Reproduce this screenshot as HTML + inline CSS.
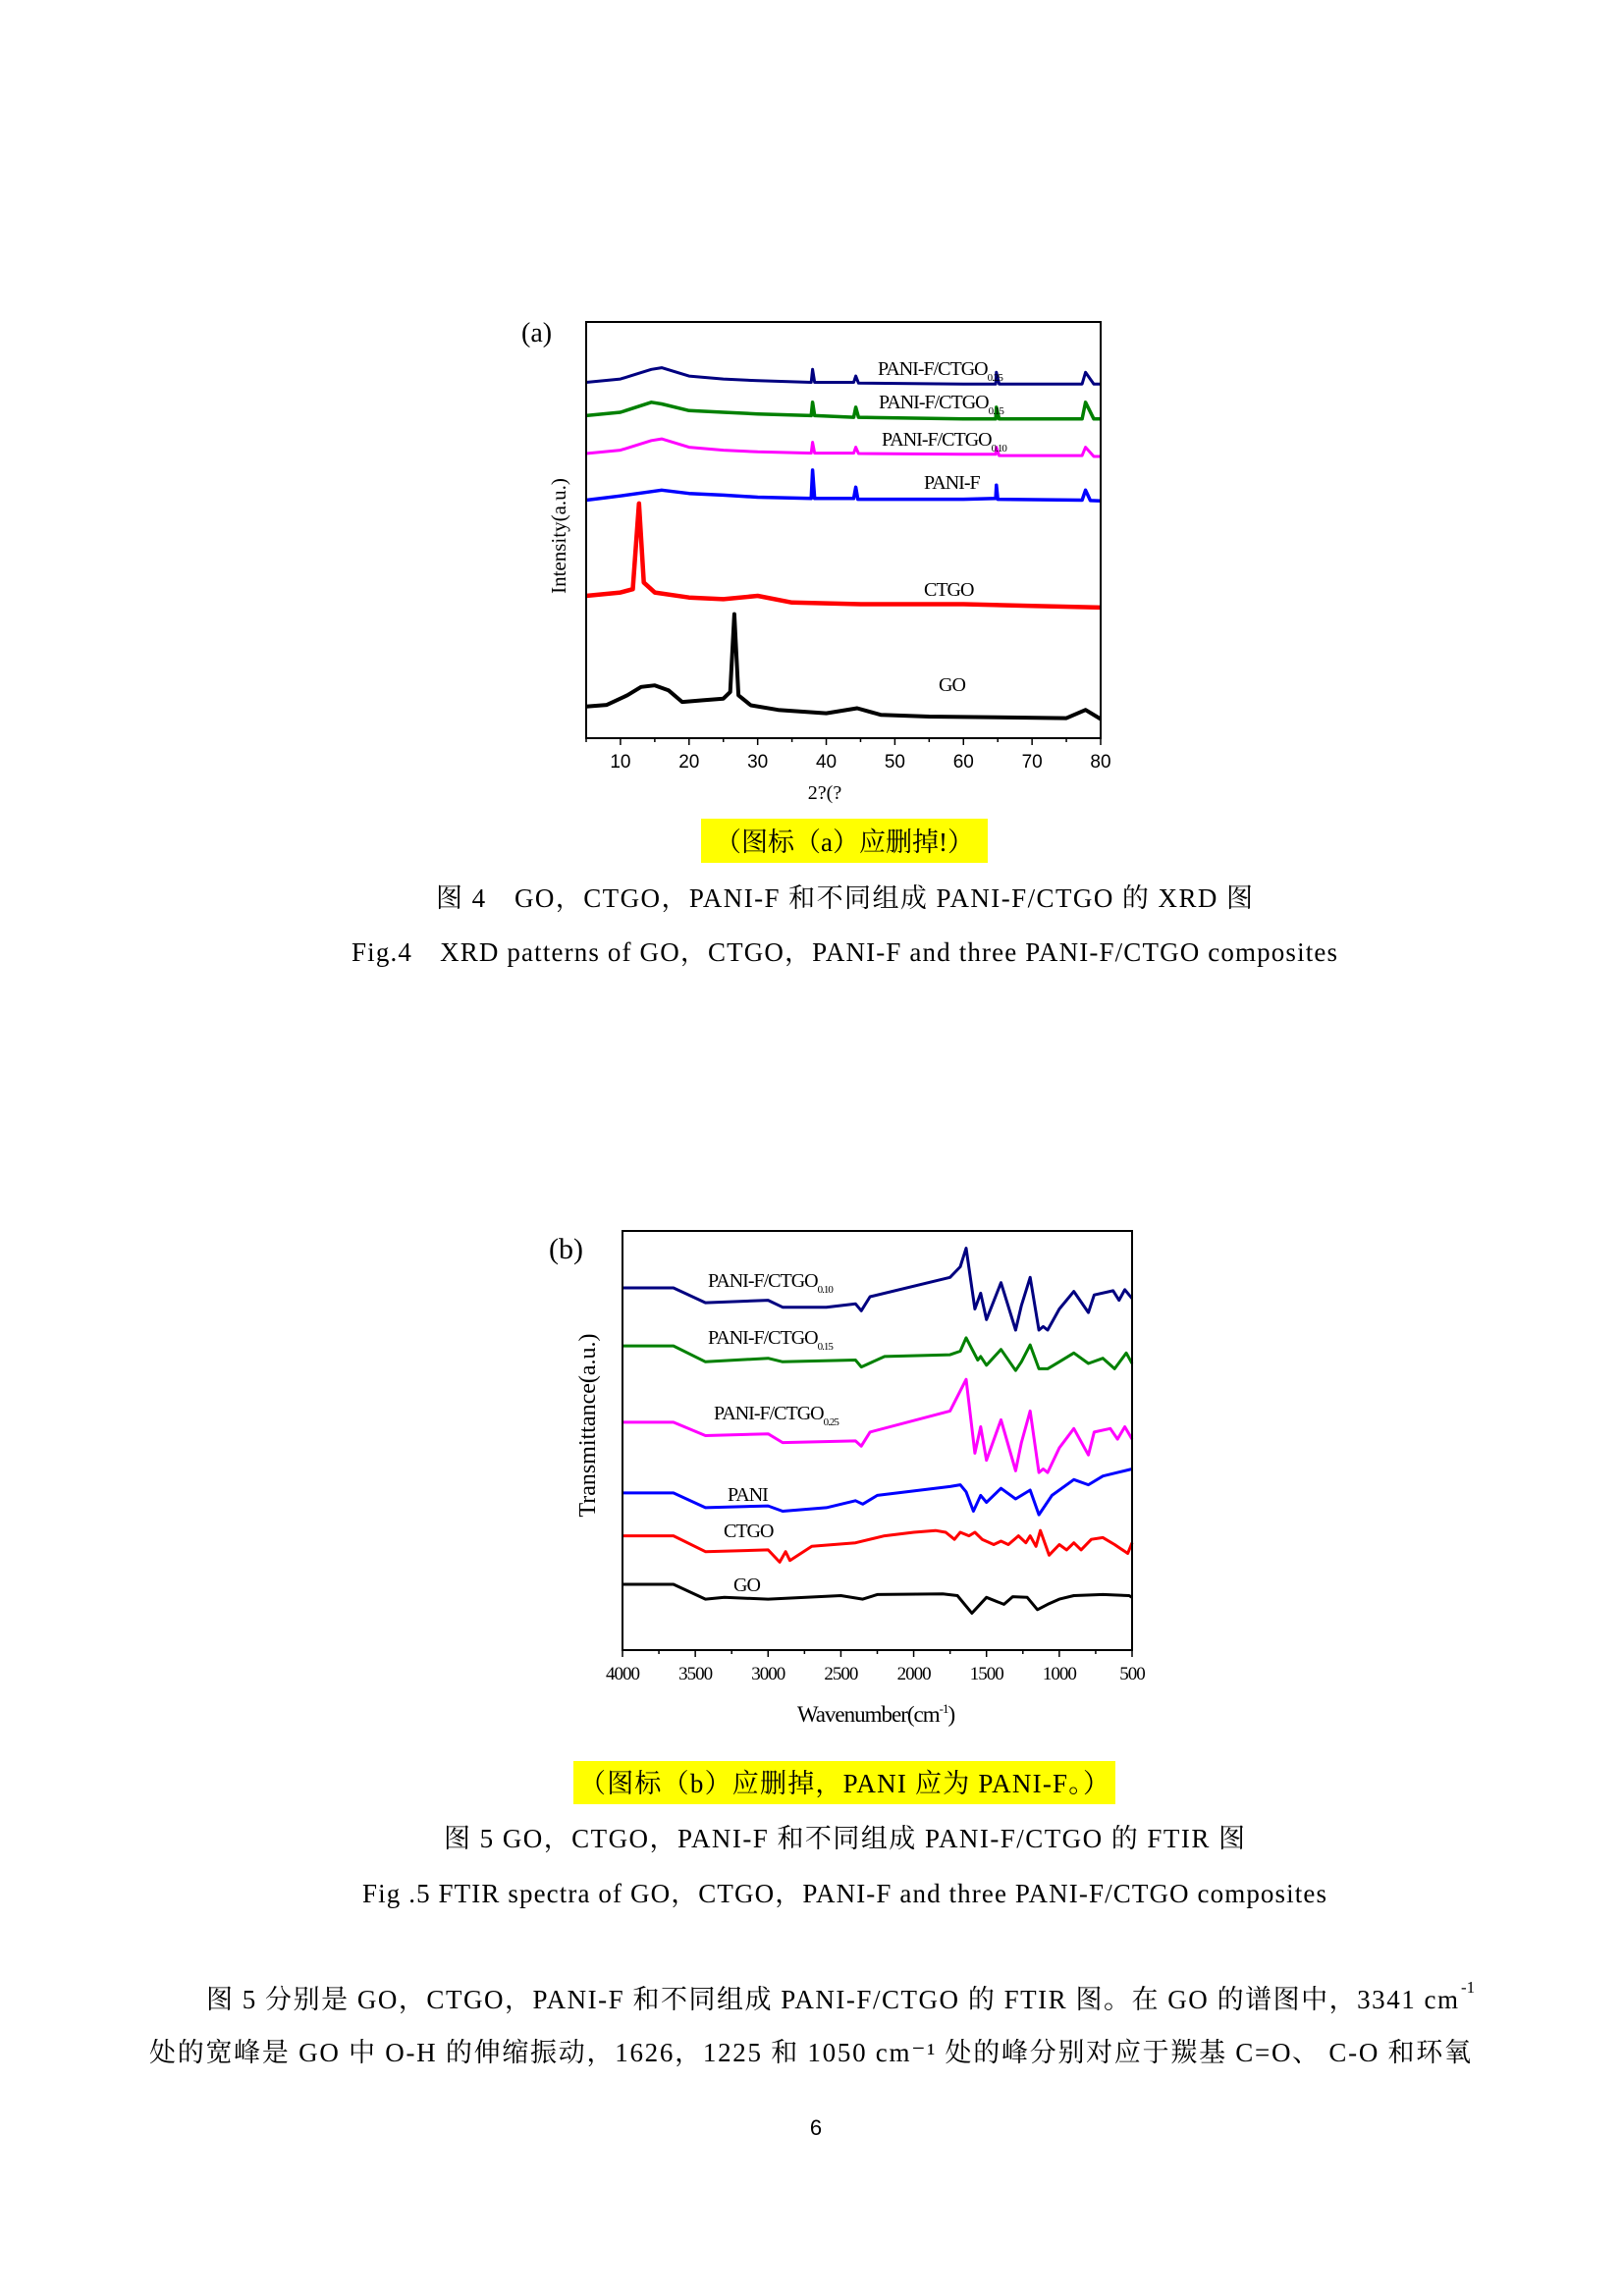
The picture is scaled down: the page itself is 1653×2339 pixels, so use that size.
<!DOCTYPE html>
<html><head><meta charset="utf-8">
<style>
html,body{margin:0;padding:0;background:#fff;}
svg{display:block;}
.serif{font-family:"Liberation Serif","Noto Serif CJK SC",serif;}
.sans{font-family:"Liberation Sans","Noto Sans CJK SC",sans-serif;}
</style></head>
<body>
<svg id="page" width="1653" height="2339" viewBox="0 0 1653 2339" xmlns="http://www.w3.org/2000/svg">
<g id="chartA"></g>
<g id="chartB"></g>

<rect x="714" y="834" width="292" height="45" fill="#ffff00"/>
<text x="860" y="867" text-anchor="middle" class="serif" font-size="27">（图标（a）应删掉!）</text>
<text x="860" y="924" text-anchor="middle" class="serif" font-size="27" textLength="832">图 4　GO，CTGO，PANI-F 和不同组成 PANI-F/CTGO 的 XRD 图</text>
<text x="860" y="979" text-anchor="middle" class="serif" font-size="27" textLength="1004">Fig.4　XRD patterns of GO，CTGO，PANI-F and three PANI-F/CTGO composites</text>

<rect x="584" y="1794" width="552" height="44" fill="#ffff00"/>
<text x="860" y="1826" text-anchor="middle" class="serif" font-size="27" textLength="540">（图标（b）应删掉，PANI 应为 PANI-F。）</text>
<text x="860" y="1882" text-anchor="middle" class="serif" font-size="27" textLength="816">图 5 GO，CTGO，PANI-F 和不同组成 PANI-F/CTGO 的 FTIR 图</text>
<text x="860" y="1938" text-anchor="middle" class="serif" font-size="27" textLength="982">Fig .5 FTIR spectra of GO，CTGO，PANI-F and three PANI-F/CTGO composites</text>

<text x="210" y="2046" class="serif" font-size="27" textLength="1275">图 5 分别是 GO，CTGO，PANI-F 和不同组成 PANI-F/CTGO 的 FTIR 图。在 GO 的谱图中，3341 cm</text>
<text x="1488" y="2030" class="serif" font-size="17">-1</text>
<text x="152" y="2100" class="serif" font-size="27" textLength="1346">处的宽峰是 GO 中 O-H 的伸缩振动，1626，1225 和 1050 cm⁻¹ 处的峰分别对应于羰基 C=O、 C-O 和环氧</text>
<text x="831" y="2175" text-anchor="middle" class="sans" font-size="22">6</text>
</svg>

<script>
// ---------- Chart A (XRD) data ----------
const xrdTicks = [10,20,30,40,50,60,70,80];
const xrdGO_x = [5,8,11,13,15,17,19,22,25,26,26.6,27.2,29,33,40,44.5,48,55,65,75,77.8,80];
const xrdGO_y = [7.6,8,10.3,12.3,12.7,11.5,8.7,9.1,9.5,11.1,29.8,10.3,7.9,6.8,6,7.2,5.6,5.2,5,4.8,6.8,4.6];
const xrdCTGO_x = [5,10,11.8,12.7,13.4,15,20,25,30,35,45,60,70,80];
const xrdCTGO_y = [34.2,35,35.8,56.4,37.4,35,33.8,33.4,34.2,32.6,32.2,32.2,31.8,31.4];
const xrdPANIF_x = [5,10,16,20,25,30,37.8,38,38.3,44,44.3,44.6,60,64.7,64.8,65,77.3,77.8,78.5,80];
const xrdPANIF_y = [57.2,58.2,59.6,58.8,58.4,57.9,57.6,64.4,57.6,57.6,60.3,57.4,57.4,57.6,60.8,57.4,57.2,59.6,57.1,57];
const xrdComp_x = [5,10,14.5,16,20,25,30,37.8,38,38.3,44,44.3,44.7,60,64.7,64.8,65.2,77.3,77.8,79,80];
const xrd010_y = [68.4,69.2,71.5,71.9,69.9,69.2,68.8,68.5,71.1,68.5,68.5,69.9,68.4,68.2,68.2,69.9,67.9,67.9,69.9,67.7,67.7];
const xrd015_y = [77.5,78.3,80.7,80.3,78.7,78.3,77.9,77.5,80.7,77.5,77.1,79.5,77.1,76.7,76.7,79.5,76.7,76.7,80.7,76.7,76.7];
const xrd025_y = [85.5,86.3,88.6,89,87,86.3,85.9,85.5,88.6,85.5,85.5,87,85.3,85.1,85.1,87.9,85.1,85.1,87.9,85.1,85.1];

// ---------- Chart B (FTIR) data ----------
const ftirTicks = [4000,3500,3000,2500,2000,1500,1000,500];
const ftir010_x = [4000,3650,3430,3000,2900,2600,2400,2360,2300,1750,1680,1640,1580,1540,1500,1400,1300,1260,1200,1140,1110,1080,1000,900,800,760,630,590,550,500];
const ftir010_y = [1030,1030,988,995,975,975,985,965,1005,1060,1090,1143,970,1015,940,1045,910,980,1060,910,920,910,970,1020,960,1010,1022,995,1025,1000];
const ftir015_x = [4000,3650,3430,3000,2900,2400,2360,2200,1750,1680,1640,1560,1540,1500,1400,1300,1260,1200,1140,1080,1000,900,800,700,620,540,500];
const ftir015_y = [865,865,820,830,820,825,805,835,840,850,888,825,835,810,855,795,820,868,800,800,820,845,815,830,800,845,815];
const ftir025_x = [4000,3650,3430,3000,2900,2400,2360,2300,1750,1640,1580,1540,1500,1400,1300,1260,1200,1140,1110,1080,1000,900,800,760,650,600,550,500];
const ftir025_y = [648,648,610,615,590,595,580,620,680,770,560,635,540,655,510,590,680,505,515,505,575,630,555,620,630,600,635,600];
const ftirPANI_x = [4000,3650,3430,3000,2900,2600,2400,2350,2250,1750,1680,1640,1590,1540,1500,1400,1300,1200,1140,1050,900,800,700,600,500];
const ftirPANI_y = [447,447,405,410,395,405,425,415,440,465,470,450,395,440,420,460,430,455,385,440,485,470,495,505,515];
const ftirCTGO_x = [4000,3650,3430,3000,2920,2880,2850,2700,2400,2200,2000,1850,1780,1720,1680,1620,1580,1530,1450,1400,1350,1280,1230,1200,1160,1130,1070,1000,950,900,850,780,700,620,530,500];
const ftirCTGO_y = [325,325,280,285,250,280,255,295,305,325,335,340,335,315,335,325,335,315,300,310,300,325,305,325,295,340,270,300,285,305,285,315,320,300,275,305];
const ftirGO_x = [4000,3650,3430,3300,3000,2500,2350,2250,1800,1700,1600,1500,1380,1320,1220,1150,1080,1000,900,700,520,500];
const ftirGO_y = [187,187,145,150,145,155,145,158,160,155,105,150,130,152,150,115,130,145,155,158,155,150];

const NS = 'http://www.w3.org/2000/svg';
function mk(tag, attrs, parent){
  const e = document.createElementNS(NS, tag);
  for (const k in attrs) e.setAttribute(k, attrs[k]);
  parent.appendChild(e);
  return e;
}

// ---------- Draw chart A ----------
(function(){
  const g = document.getElementById('chartA');
  const L=597,R=1121,T=328,B=752;
  const X = v => L + (v-5)/75*(R-L);
  const Y = v => B - v/100*(B-T);
  function series(xs, ys, color, name, w){
    let d='';
    for(let i=0;i<xs.length;i++) d += (i?'L':'M') + X(xs[i]).toFixed(1)+','+Y(ys[i]).toFixed(1);
    const p = mk('path',{d:d,fill:'none',stroke:color,'stroke-width':w,'stroke-linejoin':'round'},g);
    
    
  }
  series(xrdGO_x, xrdGO_y, '#000000', 'xrd-line-go', 4);
  series(xrdCTGO_x, xrdCTGO_y, '#ff0000', 'xrd-line-ctgo', 4.5);
  series(xrdPANIF_x, xrdPANIF_y, '#0000ff', 'xrd-line-pani-f', 3.5);
  series(xrdComp_x, xrd010_y, '#ff00ff', 'xrd-line-ctgo-010', 3);
  series(xrdComp_x, xrd015_y, '#008000', 'xrd-line-ctgo-015', 3.5);
  series(xrdComp_x, xrd025_y, '#000080', 'xrd-line-ctgo-025', 3);
  const frame = mk('rect',{x:L,y:T,width:R-L,height:B-T,fill:'none',stroke:'#000','stroke-width':2},g);
  
  
  for(let v=5; v<=80; v+=5){
    const major = v%10===0;
    const t = mk('line',{x1:X(v),x2:X(v),y1:B,y2:B+(major?7:4),stroke:'#000','stroke-width':1.5},g);
    
    
  }
  xrdTicks.forEach(v=>{
    const t = mk('text',{x:X(v),y:782,'text-anchor':'middle','font-size':19,'class':'sans'},g);
    t.textContent = v;
    
    
  });
  function label(x,y,txt,sub,name){
    const t = mk('text',{x:x,y:y,'font-size':20,'class':'serif','letter-spacing':-1},g);
    t.textContent = txt;
    if(sub){ const s = mk('tspan',{'font-size':11,dy:6},t); s.textContent = sub; }
    
    
  }
  label(894,382,'PANI-F/CTGO','0.25','xrd-label-ctgo-025');
  label(895,416,'PANI-F/CTGO','0.15','xrd-label-ctgo-015');
  label(898,454,'PANI-F/CTGO','0.10','xrd-label-ctgo-010');
  label(941,498,'PANI-F','','xrd-label-pani-f');
  label(941,607,'CTGO','','xrd-label-ctgo');
  label(956,704,'GO','','xrd-label-go');
  const pa = mk('text',{x:531,y:348,'font-size':28,'class':'serif'},g);
  pa.textContent='(a)';
  
  
  const xl = mk('text',{x:840,y:814,'text-anchor':'middle','font-size':20,'class':'serif'},g);
  xl.textContent='2?(?';
  
  
  const yl = mk('text',{x:0,y:0,'text-anchor':'middle','font-size':21,'class':'serif',transform:'translate(576,546) rotate(-90)'},g);
  yl.textContent='Intensity(a.u.)';
  
  
})();

// ---------- Draw chart B ----------
(function(){
  const g = document.getElementById('chartB');
  const L=634,R=1153,T=1254,B=1681;
  const X = w => L + (4000-w)/3500*(R-L);
  const Y = v => B - v/1192*(B-T);
  function series(xs, ys, color, name){
    let d='';
    for(let i=0;i<xs.length;i++) d += (i?'L':'M') + X(xs[i]).toFixed(1)+','+Y(ys[i]).toFixed(1);
    const p = mk('path',{d:d,fill:'none',stroke:color,'stroke-width':3,'stroke-linejoin':'round'},g);
    
    
  }
  series(ftirGO_x, ftirGO_y, '#000000', 'ftir-line-go');
  series(ftirCTGO_x, ftirCTGO_y, '#ff0000', 'ftir-line-ctgo');
  series(ftirPANI_x, ftirPANI_y, '#0000ff', 'ftir-line-pani');
  series(ftir025_x, ftir025_y, '#ff00ff', 'ftir-line-ctgo-025');
  series(ftir015_x, ftir015_y, '#008000', 'ftir-line-ctgo-015');
  series(ftir010_x, ftir010_y, '#000080', 'ftir-line-ctgo-010');
  const frame = mk('rect',{x:L,y:T,width:R-L,height:B-T,fill:'none',stroke:'#000','stroke-width':2},g);
  
  
  for(let w=4000; w>=500; w-=250){
    const major = w%500===0;
    const t = mk('line',{x1:X(w),x2:X(w),y1:B,y2:B+(major?7:4),stroke:'#000','stroke-width':1.5},g);
    
    
  }
  ftirTicks.forEach(w=>{
    const t = mk('text',{x:X(w),y:1711,'text-anchor':'middle','font-size':19,'class':'serif','letter-spacing':-1},g);
    t.textContent = w;
    
    
  });
  function label(x,y,txt,sub,name){
    const t = mk('text',{x:x,y:y,'font-size':20,'class':'serif','letter-spacing':-1},g);
    t.textContent = txt;
    if(sub){ const s = mk('tspan',{'font-size':11,dy:6},t); s.textContent = sub; }
    
    
  }
  label(721,1311,'PANI-F/CTGO','0.10','ftir-label-ctgo-010');
  label(721,1369,'PANI-F/CTGO','0.15','ftir-label-ctgo-015');
  label(727,1446,'PANI-F/CTGO','0.25','ftir-label-ctgo-025');
  label(741,1529,'PANI','','ftir-label-pani');
  label(737,1566,'CTGO','','ftir-label-ctgo');
  label(747,1621,'GO','','ftir-label-go');
  const pb = mk('text',{x:559,y:1282,'font-size':30,'class':'serif'},g);
  pb.textContent='(b)';
  
  
  const xl = mk('text',{x:892,y:1754,'text-anchor':'middle','font-size':23,'class':'serif','letter-spacing':-1},g);
  xl.textContent='Wavenumber(cm';
  const sp = mk('tspan',{'font-size':13,dy:-9},xl); sp.textContent='-1';
  const sp2 = mk('tspan',{dy:9},xl); sp2.textContent=')';
  
  
  const yl = mk('text',{x:0,y:0,'text-anchor':'middle','font-size':24,'class':'serif',transform:'translate(606,1452) rotate(-90)'},g);
  yl.textContent='Transmittance(a.u.)';
  
  
})();
</script>
</body></html>
